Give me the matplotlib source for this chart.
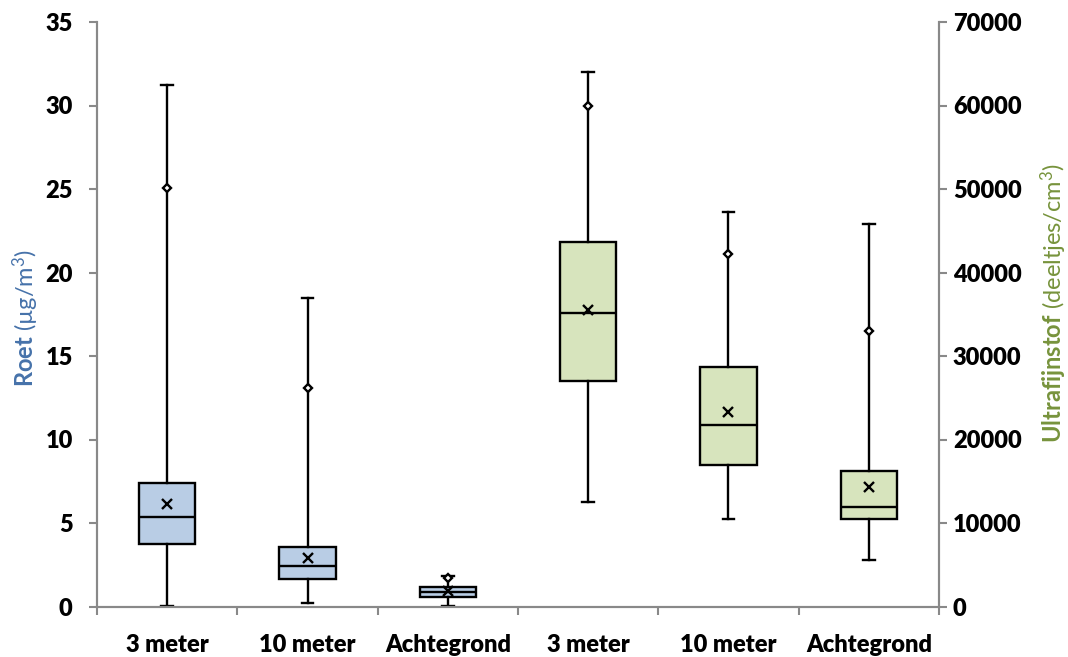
import numpy as np
import matplotlib.pyplot as plt

plt.rcParams['font.family'] = ['Lato', 'DejaVu Sans']
plt.rcParams['font.size'] = 17
plt.rcParams['mathtext.fontset'] = 'custom'
plt.rcParams['mathtext.rm'] = 'Lato'
plt.rcParams['mathtext.bf'] = 'Lato:bold'
plt.rcParams['mathtext.it'] = 'Lato:italic'

labels = ['3 meter', '10 meter', 'Achtegrond', '3 meter', '10 meter', 'Achtegrond']

# roet (ug/m3), linker as
roet_whislo = [0.05, 0.2, 0.02]
roet_q1 = [3.72, 1.63, 0.55]
roet_med = [5.35, 2.43, 0.87]
roet_mean = [6.15, 2.93, 0.92]
roet_q3 = [7.38, 3.57, 1.17]
roet_whishi = [31.2, 18.5, 1.83]
roet_p95 = [25.05, 13.1, 1.70]

# ultrafijnstof (deeltjes/cm3), rechter as
ufp_whislo = [12500, 10450, 5570]
ufp_q1 = [27050, 16950, 10520]
ufp_med = [35100, 21700, 11920]
ufp_mean = [35500, 23300, 14350]
ufp_q3 = [43600, 28700, 16200]
ufp_whishi = [64000, 47200, 45750]
ufp_p95 = [59950, 42200, 33050]

roet_ticks = np.arange(0, 36, 5)
ufp_ticks = np.arange(0, 70001, 10000)

blue_fill = '#b9cde5'
green_fill = '#d7e4bd'
grey = '#898989'


def stats(lo, q1, med, mean, q3, hi):
    return [dict(whislo=lo[i], q1=q1[i], med=med[i], mean=mean[i], q3=q3[i],
                 whishi=hi[i], fliers=[]) for i in range(len(lo))]


fig = plt.figure(figsize=(10.68, 6.57), dpi=100)
ax = fig.add_axes([97/1068, 50.5/657, 842/1068, 584.5/657])
ax2 = ax.twinx()

lw = 1.7
common = dict(widths=0.4, capwidths=0.085, showmeans=True, patch_artist=True,
              boxprops=dict(edgecolor='black', linewidth=lw),
              medianprops=dict(color='black', linewidth=lw),
              whiskerprops=dict(color='black', linewidth=lw),
              capprops=dict(color='black', linewidth=lw),
              meanprops=dict(marker='x', markeredgecolor='black', markersize=6.5,
                             markeredgewidth=1.7))

b1 = ax.bxp(stats(roet_whislo, roet_q1, roet_med, roet_mean, roet_q3, roet_whishi),
            positions=[1, 2, 3], **common)
b2 = ax2.bxp(stats(ufp_whislo, ufp_q1, ufp_med, ufp_mean, ufp_q3, ufp_whishi),
             positions=[4, 5, 6], **common)
for p in b1['boxes']:
    p.set_facecolor(blue_fill)
for p in b2['boxes']:
    p.set_facecolor(green_fill)

ax.plot([1, 2, 3], roet_p95, 'D', ms=4.5, mfc='white', mec='black', mew=1.7, zorder=5)
ax2.plot([4, 5, 6], ufp_p95, 'D', ms=4.5, mfc='white', mec='black', mew=1.7, zorder=5)

ax.set_xlim(0.5, 6.5)
ax.set_ylim(0, 35)
ax2.set_ylim(0, 70000)

tick_font = dict(family='Lato', weight='heavy', size=17)
ax.set_yticks(roet_ticks, [str(v) for v in roet_ticks], fontdict=tick_font)
ax2.set_yticks(ufp_ticks, [str(v) for v in ufp_ticks], fontdict=tick_font)
ax.set_xticks(range(1, 7), labels, fontdict=tick_font)
ax.set_xticks(np.arange(0.5, 6.6, 1), minor=True)
ax.tick_params(axis='x', which='major', length=0, pad=20)
ax.tick_params(axis='x', which='minor', length=6, width=1.5, color=grey)

for a in (ax, ax2):
    a.spines['top'].set_visible(False)
    for s in ('left', 'right', 'bottom'):
        a.spines[s].set_color(grey)
        a.spines[s].set_linewidth(1.5)
    a.tick_params(axis='y', length=6, width=1.5, color=grey)
ax.tick_params(axis='y', pad=11.5)
ax2.tick_params(axis='y', pad=4)

ax.set_ylabel(r'$\mathbf{Roet}$ (µg/m$^3$)', color='#4672aa', fontsize=17)
ax.yaxis.set_label_coords(-0.0665, 0.493)
ax2.set_ylabel(r'$\mathbf{Ultrafijnstof}$ (deeltjes/cm$^3$)', color='#77933c',
               fontsize=17)
ax2.yaxis.set_label_coords(1.118, 0.519)

fig.savefig('out.png', dpi=100)
